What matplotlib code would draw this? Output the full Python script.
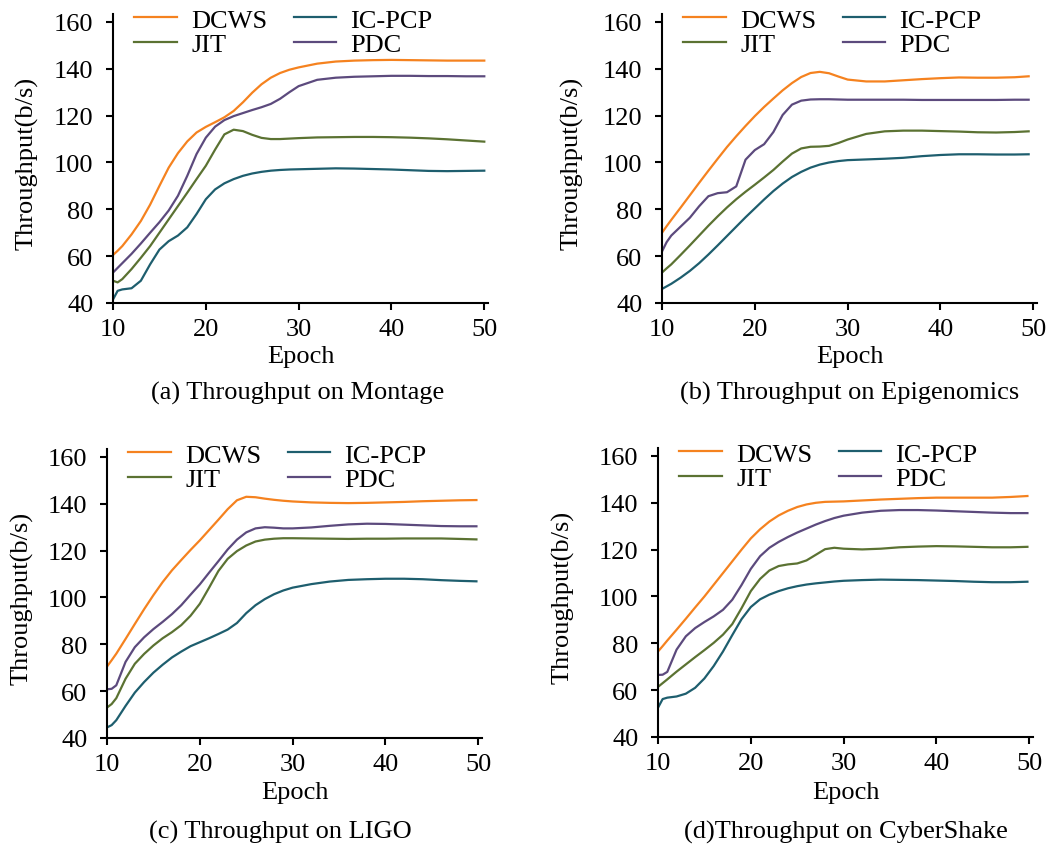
import matplotlib
matplotlib.use("Agg")
import matplotlib.pyplot as plt

plt.rcParams['font.family'] = ['Liberation Serif', 'DejaVu Serif']

methods = ["DCWS", "JIT", "IC-PCP", "PDC"]
colors = {"DCWS": "#F5821F", "JIT": "#5B7232", "IC-PCP": "#1E5E6E", "PDC": "#5C4A7D"}

mid = [10, 10.5, 11, 12, 13, 14, 15, 16, 17, 18, 19, 20, 21, 22, 23, 24, 25,
       26, 27, 28, 29, 30, 32, 34, 36, 38, 40, 42, 44, 46, 48]

# ---- (a) Montage ----
epoch_a = mid + [50]
montage_dcws = [60.5, 62.3, 64.3, 69.3, 75, 82, 90, 97.8, 104, 109, 112.8, 115.2, 117.2, 119.3,
                122, 125.7, 129.8, 133.4, 136.2, 138.2, 139.6, 140.6, 142.2, 143.1, 143.5, 143.7,
                143.8, 143.7, 143.6, 143.5, 143.5, 143.5]
montage_jit = [49.5, 48.8, 50.2, 54.5, 59.3, 64.3, 70, 75.7, 81.4, 87.1, 92.9, 98.6, 105.5, 112,
               114, 113.4, 111.8, 110.5, 110, 110, 110.2, 110.4, 110.7, 110.8, 110.9, 110.9,
               110.8, 110.6, 110.3, 109.9, 109.4, 108.9]
montage_icpcp = [41.5, 45.2, 45.8, 46.3, 49.5, 56.5, 62.8, 66.4, 68.8, 72.3, 78, 84.3, 88.5, 91.1,
                 92.9, 94.3, 95.3, 96, 96.5, 96.8, 97, 97.1, 97.3, 97.5, 97.4, 97.2, 97, 96.7,
                 96.4, 96.3, 96.4, 96.5]
montage_pdc = [53, 55, 57, 61, 65.4, 70, 74.5, 79.5, 85.8, 94.3, 103.6, 110.6, 115.3, 118.1, 119.8,
               121.1, 122.4, 123.6, 125, 127.2, 130, 132.6, 135.3, 136.2, 136.6, 136.8, 137, 137,
               136.9, 136.9, 136.8, 136.8]

# ---- (b) Epigenomics ----
epoch_b = mid + [49.5]
epi_dcws = [70, 72.8, 75.5, 80.7, 86, 91.3, 96.5, 101.6, 106.6, 111.2, 115.6, 119.8, 123.7, 127.3,
            130.8, 133.9, 136.5, 138.2, 138.7, 138.1, 136.7, 135.4, 134.6, 134.6, 135.1, 135.6,
            136.0, 136.3, 136.2, 136.2, 136.4, 136.8]
epi_jit = [53, 54.8, 56.5, 60.5, 64.6, 68.8, 73, 77, 80.8, 84.3, 87.5, 90.5, 93.6, 96.8, 100.4,
           103.8, 106, 106.7, 106.8, 107.1, 108.3, 109.8, 112.2, 113.3, 113.6, 113.6, 113.4,
           113.2, 112.9, 112.8, 113, 113.3]
epi_icpcp = [46, 47.1, 48.2, 50.8, 53.7, 57, 60.7, 64.6, 68.6, 72.6, 76.6, 80.4, 84.2, 87.8, 91,
             93.8, 96, 97.8, 99.1, 100, 100.6, 101, 101.3, 101.6, 102, 102.7, 103.2, 103.5,
             103.5, 103.4, 103.4, 103.5]
epi_pdc = [62, 66, 68.8, 72.6, 76.4, 81.3, 85.6, 86.9, 87.3, 89.8, 101.2, 105.3, 107.8, 113, 120.3,
           124.7, 126.4, 126.9, 127, 127, 126.9, 126.8, 126.8, 126.8, 126.8, 126.7, 126.7,
           126.7, 126.7, 126.7, 126.8, 126.8]

# ---- (c) LIGO ----
epoch_c = mid + [49.8]
ligo_dcws = [70.5, 73.2, 76, 82.3, 88.7, 95, 101, 106.6, 111.6, 116, 120.3, 124.4, 128.8, 133.2,
             137.7, 141.5, 143, 142.8, 142.2, 141.7, 141.3, 141, 140.6, 140.4, 140.3, 140.4,
             140.6, 140.8, 141.1, 141.3, 141.5, 141.6]
ligo_jit = [53, 54.5, 57, 65.3, 71.7, 75.9, 79.5, 82.6, 85.2, 88.2, 92.2, 97.3, 104.2, 111.3,
            116.5, 119.8, 122.2, 123.9, 124.7, 125.1, 125.3, 125.3, 125.2, 125.1, 125, 125.1,
            125.1, 125.2, 125.2, 125.2, 125, 124.8]
ligo_icpcp = [44.5, 45.5, 47.6, 53.7, 59.4, 63.9, 67.9, 71.3, 74.4, 76.9, 79.2, 80.9, 82.6, 84.4,
              86.3, 89.1, 93.3, 96.7, 99.3, 101.4, 103, 104.2, 105.7, 106.8, 107.5, 107.8, 108,
              108, 107.8, 107.4, 107.1, 106.9]
ligo_pdc = [60.8, 61, 62.5, 72.5, 78.8, 83, 86.5, 89.6, 92.9, 96.7, 101.2, 105.6, 110.6, 115.5,
            120.5, 124.7, 127.8, 129.5, 130, 129.8, 129.5, 129.5, 129.9, 130.6, 131.2, 131.5,
            131.4, 131.1, 130.8, 130.5, 130.4, 130.4]

# ---- (d) CyberShake ----
epoch_d = mid + [49.8]
cyber_dcws = [76.5, 78.8, 81.2, 85.8, 90.5, 95.3, 100, 105, 110, 115, 120, 124.8, 128.7, 132,
              134.6, 136.6, 138.2, 139.3, 140, 140.4, 140.5, 140.6, 141, 141.4, 141.7, 142,
              142.2, 142.2, 142.2, 142.2, 142.5, 142.9]
cyber_jit = [61.4, 63, 64.6, 67.9, 71, 74.1, 77.1, 80.2, 83.7, 88.2, 95, 102.3, 107.5, 111.1, 113,
             113.7, 114.1, 115.4, 117.8, 120.2, 120.8, 120.4, 120.1, 120.4, 121, 121.3, 121.5,
             121.4, 121.2, 121, 121, 121.2]
cyber_icpcp = [52.5, 56.2, 56.8, 57.3, 58.5, 61, 65, 70.3, 76.5, 83.5, 90.3, 95.5, 98.8, 100.8,
               102.3, 103.5, 104.4, 105.1, 105.6, 106, 106.4, 106.7, 107, 107.2, 107.1, 107,
               106.8, 106.6, 106.3, 106.1, 106.1, 106.3]
cyber_pdc = [66.5, 66.6, 67.8, 77.3, 83, 86.5, 89.1, 91.5, 94.3, 98.6, 104.9, 111.8, 117.2, 120.8,
             123.3, 125.4, 127.3, 129, 130.7, 132.2, 133.5, 134.5, 135.8, 136.6, 136.9, 136.9,
             136.7, 136.4, 136.1, 135.8, 135.6, 135.6]

yticks = [40, 60, 80, 100, 120, 140, 160]
xticks = [10, 20, 30, 40, 50]

panels = [
    dict(epoch=epoch_a, series=[montage_dcws, montage_jit, montage_icpcp, montage_pdc],
         rect=(113, 15), title="(a) Throughput on Montage", title_x=298, ylab_x=27,
         xlab_y=357, title_y=393),
    dict(epoch=epoch_b, series=[epi_dcws, epi_jit, epi_icpcp, epi_pdc],
         rect=(662, 15), title="(b) Throughput on Epigenomics", title_x=850, ylab_x=572,
         xlab_y=357, title_y=393),
    dict(epoch=epoch_c, series=[ligo_dcws, ligo_jit, ligo_icpcp, ligo_pdc],
         rect=(107, 450), title="(c) Throughput on LIGO", title_x=280, ylab_x=22,
         xlab_y=793, title_y=832),
    dict(epoch=epoch_d, series=[cyber_dcws, cyber_jit, cyber_icpcp, cyber_pdc],
         rect=(658, 449), title="(d)Throughput on CyberShake", title_x=846, ylab_x=563,
         xlab_y=793, title_y=832),
]

W, H = 1051, 853
fig = plt.figure(figsize=(W / 100, H / 100), dpi=100)
FS = 19
ax_w, ax_h = 375, 289

for p in panels:
    left_px, top_px = p["rect"]
    ax = fig.add_axes([left_px / W, 1 - (top_px + ax_h) / H, ax_w / W, ax_h / H])
    for name, vals in zip(methods, p["series"]):
        ax.plot(p["epoch"], vals, color=colors[name], lw=1.6, label=name,
                solid_joinstyle="round")
    ax.set_xlim(10, 50.4)
    ax.set_ylim(40, 163.4)
    ax.set_xticks(xticks)
    ax.set_yticks(yticks)
    ax.spines["top"].set_visible(False)
    ax.spines["right"].set_visible(False)
    for s in ("left", "bottom"):
        ax.spines[s].set_linewidth(1.5)
    ax.tick_params(axis="both", direction="out", length=5, width=1.5, labelsize=FS)
    ax.tick_params(axis="y", pad=9)
    ax.tick_params(axis="x", pad=6)
    ax.legend(ncol=2, loc="upper left", bbox_to_anchor=(0.057, 1.02), frameon=False,
              fontsize=FS, handlelength=1.6, handletextpad=0.55, columnspacing=1.0,
              labelspacing=0.05, borderpad=0, borderaxespad=0)
    cx = (left_px + ax_w / 2) / W
    fig.text(cx, 1 - p["xlab_y"] / H, "Epoch", ha="center", va="center", fontsize=FS)
    fig.text(p["ylab_x"] / W, 1 - (top_px + ax_h / 2 + 4) / H, "Throughput(b/s)",
             rotation=90, ha="center", va="center", fontsize=FS)
    fig.text(p["title_x"] / W, 1 - p["title_y"] / H, p["title"], ha="center", va="center",
             fontsize=FS)

fig.savefig("out.png", dpi=100)
